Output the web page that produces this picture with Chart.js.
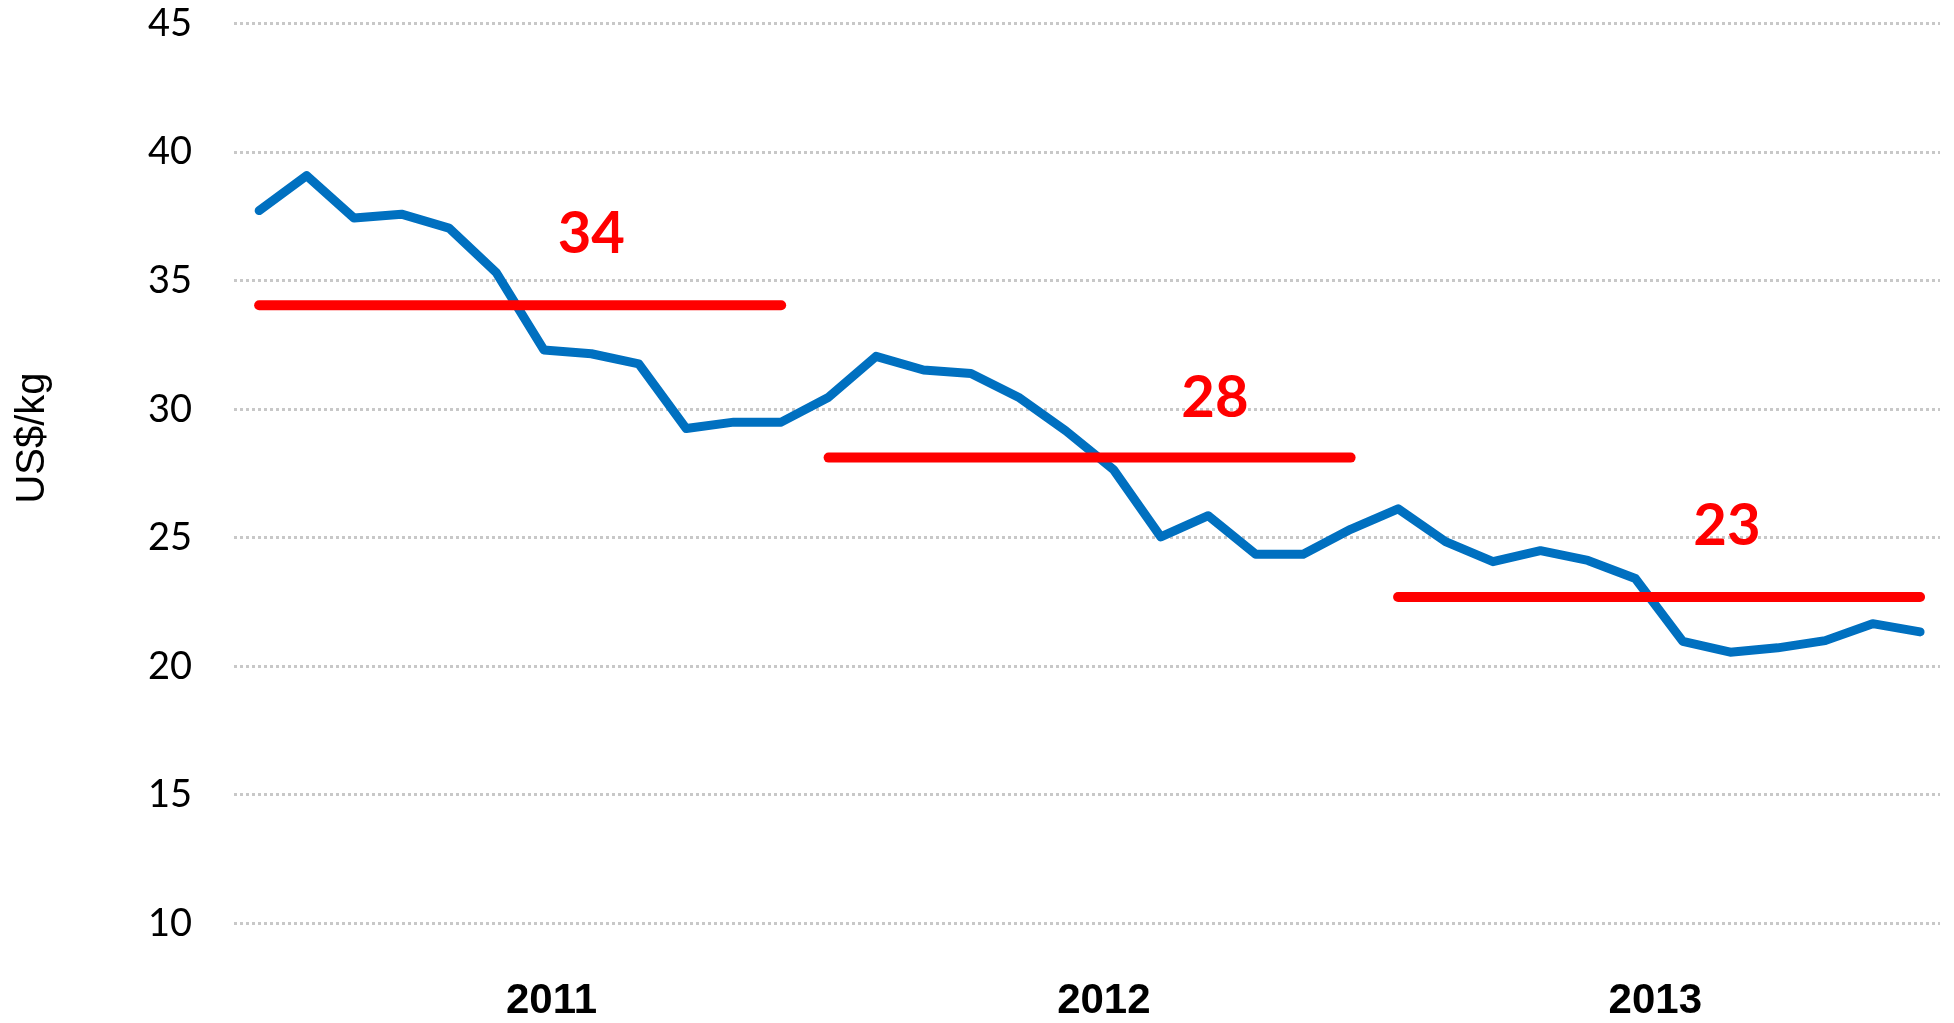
<!DOCTYPE html>
<html>
<head>
<meta charset="utf-8">
<title>US$/kg 2011-2013</title>
<script src="https://cdn.jsdelivr.net/npm/chart.js@4.4.0/dist/chart.umd.min.js"></script>
<style>
  html, body { margin: 0; padding: 0; background: #fff; }
  #wrap { width: 1954px; height: 1023px; position: relative; }
</style>
</head>
<body>
<div id="wrap"><canvas id="priceChart"></canvas></div>
<script>
// monthly price, Jan 2011 .. Dec 2013 (x = month index 0..35)
const prices = [
  37.73, 39.09, 37.44, 37.59, 37.05, 35.31, 32.31, 32.16, 31.77, 29.25, 29.50, 29.50,
  30.47, 32.06, 31.53, 31.39, 30.47, 29.16, 27.66, 25.04, 25.86, 24.36, 24.36, 25.33,
  26.13, 24.85, 24.07, 24.50, 24.12, 23.42, 20.97, 20.55, 20.72, 21.00, 21.66, 21.34
];

// year labels on the x axis and where they sit (month index)
const years = ['2011', '2012', '2013'];
const yearTickPos = [6.16, 17.8, 29.42];

// yearly average lines
const yearAvg = [34.05, 28.12, 22.7];
const yearStart = [0, 12, 24];
const yearEnd = [11, 23, 35];

// red numbers above the average lines
const avgLabels = ['34', '28', '23'];
const avgLabelX = [7.0, 20.14, 30.93];
const avgLabelY = [36.8, 30.43, 25.43];

const BLUE = '#0070C0';
const RED = '#FF0000';

// datasets: blue price line + one red segment per year
const datasets = [{
  label: 'price',
  data: prices.map((v, i) => ({ x: i, y: v })),
  borderColor: BLUE,
  borderWidth: 9,
  borderCapStyle: 'round',
  borderJoinStyle: 'round',
  pointRadius: 0,
  tension: 0,
  order: 1
}];
years.forEach((yr, i) => {
  datasets.push({
    label: 'avg ' + yr,
    data: [{ x: yearStart[i], y: yearAvg[i] }, { x: yearEnd[i], y: yearAvg[i] }],
    borderColor: RED,
    borderWidth: 10,
    borderCapStyle: 'round',
    pointRadius: 0,
    order: 0
  });
});

// axis title + red numbers
const extraText = {
  id: 'extraText',
  afterDatasetsDraw(chart) {
    const { ctx, scales } = chart;
    ctx.save();
    ctx.fillStyle = RED;
    ctx.font = 'bold 58px Lato';
    ctx.textAlign = 'center';
    ctx.textBaseline = 'middle';
    avgLabels.forEach((txt, i) => {
      ctx.fillText(txt, scales.x.getPixelForValue(avgLabelX[i]), scales.y.getPixelForValue(avgLabelY[i]));
    });
    ctx.restore();
  },
  afterDraw(chart) {
    const ctx = chart.ctx;
    ctx.save();
    ctx.translate(32.5, 438);
    ctx.rotate(-Math.PI / 2);
    ctx.fillStyle = '#000';
    ctx.font = '40px "Liberation Sans"';
    ctx.textAlign = 'center';
    ctx.textBaseline = 'middle';
    ctx.fillText('US$/kg', 0, 0);
    ctx.restore();
  }
};

new Chart(document.getElementById('priceChart'), {
  type: 'line',
  data: { datasets: datasets },
  options: {
    responsive: true,
    maintainAspectRatio: false,
    animation: false,
    layout: { padding: { top: 23.7, right: 14, left: 0, bottom: 0 } },
    plugins: {
      legend: { display: false },
      tooltip: { enabled: false }
    },
    scales: {
      x: {
        type: 'linear',
        min: -0.53,
        max: 35.42,
        grid: { display: false, drawTicks: false },
        border: { display: false },
        afterBuildTicks: (scale) => {
          scale.ticks = yearTickPos.map(v => ({ value: v }));
        },
        afterFit: (scale) => { scale.height = 99.6; },
        ticks: {
          autoSkip: false,
          maxRotation: 0,
          padding: 53,
          color: '#000',
          font: { family: '"Liberation Sans"', size: 42, weight: 'bold' },
          callback: (v, i) => years[i]
        }
      },
      y: {
        min: 10,
        max: 45,
        grid: { color: '#c8c8c8', lineWidth: 3, drawTicks: false, borderDash: [3, 3] },
        border: { display: false, dash: [3, 3] },
        afterFit: (scale) => {
          scale.width = 234;
          // the tick padding would otherwise push the plot top down
          scale.paddingTop = 0;
          scale.paddingBottom = 0;
        },
        ticks: {
          stepSize: 5,
          padding: 42,
          color: '#000',
          font: { family: 'Lato', size: 38 }
        }
      }
    }
  },
  plugins: [extraText]
});
</script>
</body>
</html>
